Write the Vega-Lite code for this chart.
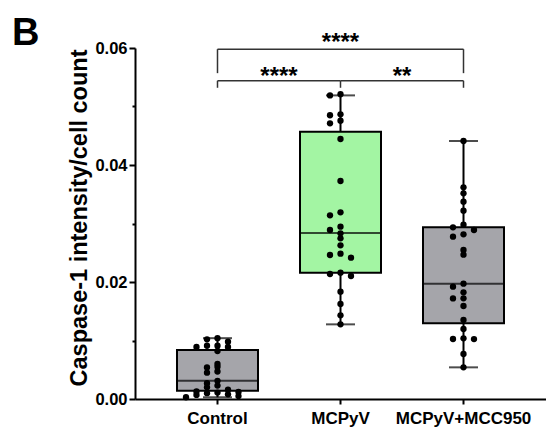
{
  "$schema": "https://vega.github.io/schema/vega-lite/v6.json",
  "width": 411,
  "height": 351,
  "autosize": {"type": "none"},
  "padding": {"left": 135, "top": 48, "right": 0, "bottom": 29},
  "background": "white",
  "title": {"text": "B", "anchor": "start", "frame": "group", "font": "Liberation Sans", "fontSize": 38, "fontWeight": "bold", "color": "black", "baseline": "alphabetic", "dx": -123, "dy": 52, "offset": 0},
  "config": {
    "view": {"stroke": null},
    "font": "Liberation Sans",
    "axis": {"grid": false, "domainColor": "black", "tickColor": "black", "labelColor": "black", "titleColor": "black", "labelFont": "Liberation Sans", "titleFont": "Liberation Sans"}
  },
  "datasets": {
    "points": [
      {"g": "Control", "v": 0.0104}, {"g": "Control", "v": 0.0102}, {"g": "Control", "v": 0.0098},
      {"g": "Control", "v": 0.0091}, {"g": "Control", "v": 0.0091}, {"g": "Control", "v": 0.0089},
      {"g": "Control", "v": 0.0089}, {"g": "Control", "v": 0.0082}, {"g": "Control", "v": 0.0060},
      {"g": "Control", "v": 0.0055}, {"g": "Control", "v": 0.0054}, {"g": "Control", "v": 0.0047},
      {"g": "Control", "v": 0.0045}, {"g": "Control", "v": 0.0031}, {"g": "Control", "v": 0.0027},
      {"g": "Control", "v": 0.0023}, {"g": "Control", "v": 0.0020}, {"g": "Control", "v": 0.0016},
      {"g": "Control", "v": 0.0013}, {"g": "Control", "v": 0.0012}, {"g": "Control", "v": 0.0011},
      {"g": "Control", "v": 0.0010}, {"g": "Control", "v": 0.0008}, {"g": "Control", "v": 0.0007},
      {"g": "Control", "v": 0.0005}, {"g": "Control", "v": 0.0003},
      {"g": "MCPyV", "v": 0.0521}, {"g": "MCPyV", "v": 0.0519}, {"g": "MCPyV", "v": 0.04866},
      {"g": "MCPyV", "v": 0.0485}, {"g": "MCPyV", "v": 0.04757}, {"g": "MCPyV", "v": 0.04712},
      {"g": "MCPyV", "v": 0.04444}, {"g": "MCPyV", "v": 0.03726}, {"g": "MCPyV", "v": 0.03191},
      {"g": "MCPyV", "v": 0.0314}, {"g": "MCPyV", "v": 0.02946}, {"g": "MCPyV", "v": 0.02889},
      {"g": "MCPyV", "v": 0.02832}, {"g": "MCPyV", "v": 0.02746}, {"g": "MCPyV", "v": 0.02627},
      {"g": "MCPyV", "v": 0.02484}, {"g": "MCPyV", "v": 0.02462}, {"g": "MCPyV", "v": 0.02416},
      {"g": "MCPyV", "v": 0.02159}, {"g": "MCPyV", "v": 0.02137}, {"g": "MCPyV", "v": 0.02103},
      {"g": "MCPyV", "v": 0.01835}, {"g": "MCPyV", "v": 0.01624}, {"g": "MCPyV", "v": 0.0143},
      {"g": "MCPyV", "v": 0.01276},
      {"g": "MCPyV+MCC950", "v": 0.0441}, {"g": "MCPyV+MCC950", "v": 0.03618}, {"g": "MCPyV+MCC950", "v": 0.03516},
      {"g": "MCPyV+MCC950", "v": 0.03373}, {"g": "MCPyV+MCC950", "v": 0.03219}, {"g": "MCPyV+MCC950", "v": 0.0298},
      {"g": "MCPyV+MCC950", "v": 0.02935}, {"g": "MCPyV+MCC950", "v": 0.02889}, {"g": "MCPyV+MCC950", "v": 0.02815},
      {"g": "MCPyV+MCC950", "v": 0.02775}, {"g": "MCPyV+MCC950", "v": 0.02547}, {"g": "MCPyV+MCC950", "v": 0.02467},
      {"g": "MCPyV+MCC950", "v": 0.01971}, {"g": "MCPyV+MCC950", "v": 0.0192}, {"g": "MCPyV+MCC950", "v": 0.01823},
      {"g": "MCPyV+MCC950", "v": 0.01721}, {"g": "MCPyV+MCC950", "v": 0.01719}, {"g": "MCPyV+MCC950", "v": 0.0159},
      {"g": "MCPyV+MCC950", "v": 0.0135}, {"g": "MCPyV+MCC950", "v": 0.01197}, {"g": "MCPyV+MCC950", "v": 0.01037},
      {"g": "MCPyV+MCC950", "v": 0.01026}, {"g": "MCPyV+MCC950", "v": 0.01024}, {"g": "MCPyV+MCC950", "v": 0.00769},
      {"g": "MCPyV+MCC950", "v": 0.00541}
    ],
    "summary": [
      {"g": "Control", "min": 0.0003, "q1": 0.00142, "med": 0.00313, "q3": 0.00838, "max": 0.0104},
      {"g": "MCPyV", "min": 0.01276, "q1": 0.02159, "med": 0.02838, "q3": 0.0457, "max": 0.0519},
      {"g": "MCPyV+MCC950", "min": 0.00541, "q1": 0.01294, "med": 0.01971, "q3": 0.02935, "max": 0.0441}
    ],
    "bracketH": [
      {"a": "Control", "b": "MCPyV+MCC950", "y": 0.0598},
      {"a": "Control", "b": "MCPyV", "y": 0.0544},
      {"a": "MCPyV", "b": "MCPyV+MCC950", "y": 0.0544}
    ],
    "bracketV": [
      {"g": "Control", "y": 0.0598, "y2": 0.0557},
      {"g": "MCPyV+MCC950", "y": 0.0598, "y2": 0.0557},
      {"g": "Control", "y": 0.0544, "y2": 0.0532},
      {"g": "MCPyV", "y": 0.0544, "y2": 0.0532},
      {"g": "MCPyV+MCC950", "y": 0.0544, "y2": 0.0532}
    ],
    "stars": [
      {"g": "MCPyV", "label": "****", "y": 0.0597, "between": false},
      {"g": "Control", "label": "****", "y": 0.0539, "between": true},
      {"g": "MCPyV", "label": "**", "y": 0.0539, "between": true}
    ]
  },
  "encoding": {
    "x": {
      "field": "g", "type": "nominal",
      "scale": {"domain": ["Control", "MCPyV", "MCPyV+MCC950"], "paddingInner": 0, "paddingOuter": 0.1707},
      "axis": {"title": null, "labelAngle": 0, "labelFontSize": 17, "labelFontWeight": "bold", "labelPadding": 6, "tickSize": 5, "tickWidth": 2, "domainWidth": 2}
    }
  },
  "layer": [
    {
      "data": {"name": "summary"},
      "mark": {"type": "rule", "color": "black", "strokeWidth": 2},
      "encoding": {
        "y": {
          "field": "min", "type": "quantitative",
          "scale": {"domain": [0, 0.06], "nice": false, "zero": true},
          "axis": {
            "title": "Caspase-1 intensity/cell count",
            "values": [0, 0.01, 0.02, 0.03, 0.04, 0.05, 0.06],
            "labelExpr": "round(datum.value * 100) % 2 == 1 ? '' : format(datum.value, '.2f')",
            "labelFontSize": 16.5, "labelFontWeight": "bold", "labelPadding": 2,
            "tickSize": {"condition": {"test": "round(datum.value * 100) % 2 == 1", "value": 3}, "value": 6},
            "tickWidth": 2, "domainWidth": 2,
            "titleFontSize": 23.5, "titleFontWeight": "bold", "titleAngle": 270,
            "titleAlign": "center", "titleBaseline": "alphabetic", "titleX": -49, "titleY": 169.5
          }
        },
        "y2": {"field": "max"}
      }
    },
    {
      "data": {"name": "summary"},
      "mark": {"type": "tick", "color": "black", "size": 29, "thickness": 2},
      "encoding": {"y": {"field": "max", "type": "quantitative"}}
    },
    {
      "data": {"name": "summary"},
      "mark": {"type": "tick", "color": "black", "size": 29, "thickness": 2},
      "encoding": {"y": {"field": "min", "type": "quantitative"}}
    },
    {
      "data": {"name": "summary"},
      "mark": {"type": "bar", "size": 81, "stroke": "black", "strokeWidth": 2, "opacity": 1},
      "encoding": {
        "y": {"field": "q1", "type": "quantitative"},
        "y2": {"field": "q3"},
        "color": {"field": "g", "type": "nominal", "scale": {"domain": ["Control", "MCPyV", "MCPyV+MCC950"], "range": ["#a5a5aa", "#a3f5a3", "#a5a5aa"]}, "legend": null}
      }
    },
    {
      "data": {"name": "summary"},
      "mark": {"type": "tick", "color": "black", "size": 81, "thickness": 2},
      "encoding": {"y": {"field": "med", "type": "quantitative"}}
    },
    {
      "data": {"name": "points"},
      "transform": [
        {"calculate": "floor(datum.v / 0.0012 + 0.000001)", "as": "bin"},
        {"window": [{"op": "row_number", "as": "rn"}], "groupby": ["g", "bin"], "sort": [{"field": "v", "order": "descending"}]},
        {"calculate": "datum.rn == 1 ? 0 : (datum.rn % 2 == 0 ? -datum.rn / 2 : (datum.rn - 1) / 2)", "as": "lane"}
      ],
      "mark": {"type": "circle", "color": "black", "size": 40, "opacity": 1},
      "encoding": {
        "y": {"field": "v", "type": "quantitative"},
        "xOffset": {"field": "lane", "type": "quantitative", "scale": {"domain": [-4, 4], "range": [19.5, 103.5]}}
      }
    },
    {
      "data": {"name": "bracketH"},
      "mark": {"type": "rule", "color": "#333333", "strokeWidth": 1.5},
      "encoding": {
        "x": {"field": "a", "type": "nominal"},
        "x2": {"field": "b"},
        "y": {"field": "y", "type": "quantitative"}
      }
    },
    {
      "data": {"name": "bracketV"},
      "mark": {"type": "rule", "color": "#333333", "strokeWidth": 1.5},
      "encoding": {
        "y": {"field": "y", "type": "quantitative"},
        "y2": {"field": "y2"}
      }
    },
    {
      "data": {"name": "stars"},
      "transform": [{"filter": "!datum.between"}],
      "mark": {"type": "text", "font": "Liberation Sans", "fontSize": 24, "fontWeight": "bold", "baseline": "alphabetic", "align": "center", "color": "black"},
      "encoding": {"y": {"field": "y", "type": "quantitative"}, "text": {"field": "label"}}
    },
    {
      "data": {"name": "stars"},
      "transform": [{"filter": "datum.between"}],
      "mark": {"type": "text", "font": "Liberation Sans", "fontSize": 24, "fontWeight": "bold", "baseline": "alphabetic", "align": "center", "color": "black", "dx": 61.5},
      "encoding": {"y": {"field": "y", "type": "quantitative"}, "text": {"field": "label"}}
    }
  ]
}
